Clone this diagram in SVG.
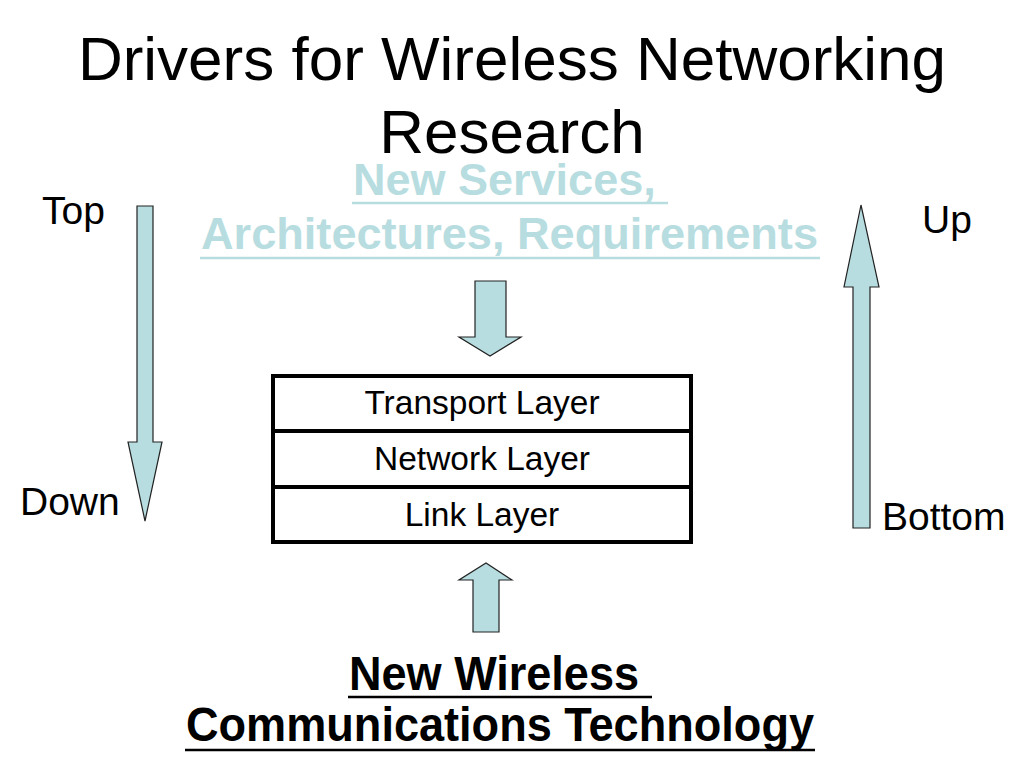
<svg xmlns="http://www.w3.org/2000/svg" width="1024" height="768" viewBox="0 0 1024 768">
<style>
text{font-family:"Liberation Sans",Arial,sans-serif;}
.title{font-size:62px;fill:#000;text-anchor:middle;}
.lbl{font-size:39px;fill:#000;}
.svc{font-size:45px;font-weight:bold;fill:#b7dde0;}
.tech{font-size:48px;font-weight:bold;fill:#000;}
.layer{font-size:33.5px;fill:#000;text-anchor:middle;}
.arrow{fill:#b7dde0;stroke:#222;stroke-width:1.2;stroke-linejoin:miter;}
.box{fill:#fff;stroke:#000;stroke-width:4;}
</style>
<rect width="1024" height="768" fill="#fff"/>
<g id="title">
<text class="title" x="512" y="80">Drivers for Wireless Networking</text>
<text class="title" x="512" y="153">Research</text>
</g>
<g id="services">
<text class="svc" x="353" y="195">New Services, </text>
<line x1="352" y1="203" x2="668" y2="203" stroke="#b7dde0" stroke-width="2.5"/>
<text class="svc" x="201" y="249" textLength="617" lengthAdjust="spacingAndGlyphs">Architectures, Requirements</text>
<line x1="200" y1="258" x2="820" y2="258" stroke="#b7dde0" stroke-width="2.5"/>
</g>
<g id="technology">
<text class="tech" x="349" y="690" textLength="290" lengthAdjust="spacingAndGlyphs">New Wireless</text>
<line x1="348" y1="697" x2="652" y2="697" stroke="#000" stroke-width="2.5"/>
<text class="tech" x="186" y="741" textLength="628" lengthAdjust="spacingAndGlyphs">Communications Technology</text>
<line x1="185" y1="750" x2="815" y2="750" stroke="#000" stroke-width="2.5"/>
</g>
<g id="labels">
<text class="lbl" x="42" y="224">Top</text>
<text class="lbl" x="20" y="515">Down</text>
<text class="lbl" x="922" y="233">Up</text>
<text class="lbl" x="882" y="530">Bottom</text>
</g>
<g id="stack">
<g id="transport">
<rect class="box" x="273" y="376" width="418" height="55"/>
<text class="layer" x="482" y="414">Transport Layer</text>
</g>
<g id="network">
<rect class="box" x="273" y="431" width="418" height="56"/>
<text class="layer" x="482" y="470">Network Layer</text>
</g>
<g id="link">
<rect class="box" x="273" y="487" width="418" height="55"/>
<text class="layer" x="482" y="526">Link Layer</text>
</g>
</g>
<g id="connectors">
<polygon class="arrow" points="137,206 153,206 153,442 162,442 145,521 128,442 137,442"/>
<polygon class="arrow" points="853,528 870,528 870,287 879,287 861,205 844,287 853,287"/>
<polygon class="arrow" points="475,281 506,281 506,337 521,337 490,356 459,337 475,337"/>
<polygon class="arrow" points="473,632 499,632 499,580 512,580 486,563 459,580 473,580"/>
</g>
</svg>
